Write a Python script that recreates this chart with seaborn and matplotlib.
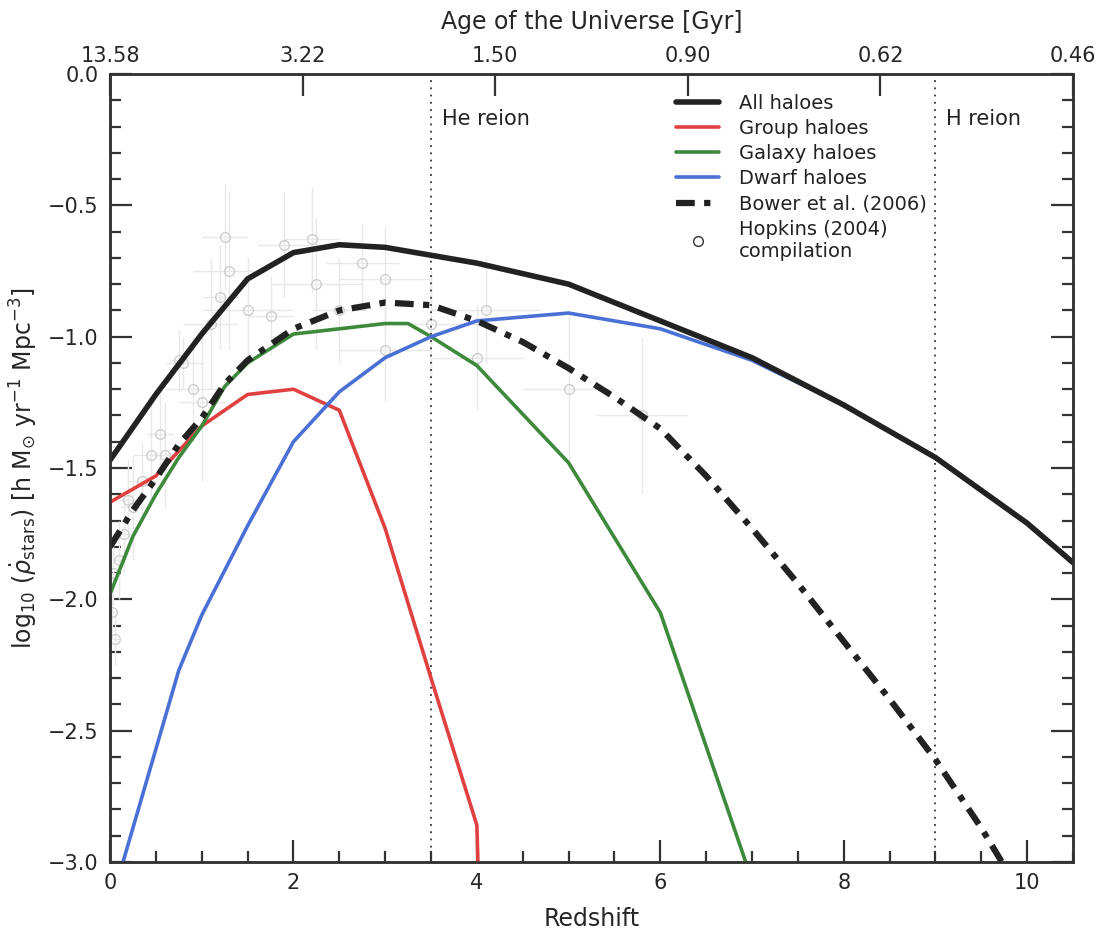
import numpy as np
import pandas as pd
import matplotlib
matplotlib.use('Agg')
import matplotlib.pyplot as plt
from matplotlib.ticker import MultipleLocator
import seaborn as sns

# ----- Data -----
z_all = [0.0, 0.5, 1.0, 1.5, 2.0, 2.5, 3.0, 3.5, 4.0, 5.0, 6.0, 7.0, 8.0, 9.0, 10.0, 10.5]
sfr_all = [-1.47, -1.22, -0.99, -0.78, -0.68, -0.65, -0.66, -0.69, -0.72, -0.80, -0.94, -1.08, -1.26, -1.46, -1.71, -1.86]

z_group = [0.0, 0.5, 1.0, 1.5, 2.0, 2.5, 3.0, 3.5, 4.0, 4.02]
sfr_group = [-1.63, -1.53, -1.34, -1.22, -1.20, -1.28, -1.73, -2.30, -2.86, -3.10]

z_galaxy = [0.0, 0.25, 0.5, 0.75, 1.0, 1.25, 1.5, 2.0, 2.5, 3.0, 3.25, 3.5, 4.0, 5.0, 6.0, 7.0]
sfr_galaxy = [-1.98, -1.76, -1.60, -1.46, -1.34, -1.19, -1.10, -0.99, -0.97, -0.95, -0.95, -1.00, -1.11, -1.48, -2.05, -3.07]

z_dwarf = [0.0, 0.75, 1.0, 1.5, 2.0, 2.5, 3.0, 3.5, 4.0, 5.0, 6.0, 7.0, 8.0, 9.0, 10.0, 10.5]
sfr_dwarf = [-3.17, -2.27, -2.06, -1.72, -1.40, -1.21, -1.08, -1.00, -0.94, -0.91, -0.97, -1.09, -1.26, -1.46, -1.71, -1.86]

z_bower = [0.0, 0.25, 0.5, 0.75, 1.0, 1.25, 1.5, 2.0, 2.5, 3.0, 3.5, 4.0, 4.5, 5.0, 5.5, 6.0,
           6.5, 7.0, 7.5, 8.0, 8.5, 9.0, 9.5, 10.0]
sfr_bower = [-1.80, -1.66, -1.54, -1.41, -1.31, -1.18, -1.09, -0.97, -0.90, -0.87, -0.88, -0.94,
             -1.02, -1.12, -1.23, -1.35, -1.53, -1.73, -1.94, -2.16, -2.38, -2.61, -2.87, -3.16]

# Hopkins (2004) compilation, approximate
hop_z = [0.02, 0.03, 0.05, 0.1, 0.15, 0.2, 0.25, 0.35, 0.45, 0.55, 0.6, 0.75, 0.8, 0.9, 1.0,
         1.1, 1.2, 1.25, 1.3, 1.5, 1.75, 1.9, 2.2, 2.25, 2.5, 2.75, 3.0, 3.0, 3.5, 4.0, 4.1, 5.0, 5.8]
hop_sfr = [-2.05, -1.90, -2.15, -1.85, -1.75, -1.62, -1.65, -1.55, -1.45, -1.37, -1.45, -1.09, -1.10,
           -1.20, -1.25, -0.95, -0.85, -0.62, -0.75, -0.90, -0.92, -0.65, -0.63, -0.80, -0.90, -0.72,
           -0.78, -1.05, -0.95, -1.08, -0.90, -1.20, -1.30]
hop_zerr = [0.02, 0.03, 0.05, 0.05, 0.1, 0.1, 0.15, 0.15, 0.2, 0.15, 0.2, 0.1, 0.2, 0.3, 0.25,
            0.3, 0.2, 0.25, 0.4, 0.5, 0.25, 0.3, 0.3, 0.5, 0.3, 0.4, 0.5, 0.5, 0.5, 0.5, 0.6, 0.5, 0.5]
hop_sfrerr = [0.10, 0.12, 0.10, 0.15, 0.15, 0.15, 0.20, 0.15, 0.20, 0.15, 0.20, 0.12, 0.10, 0.20, 0.30,
              0.25, 0.20, 0.20, 0.30, 0.20, 0.15, 0.20, 0.20, 0.25, 0.20, 0.15, 0.20, 0.20, 0.20, 0.20,
              0.20, 0.30, 0.30]

age_ticks = ['13.58', '3.22', '1.50', '0.90', '0.62', '0.46']
reion_z = [3.5, 9.0]
reion_labels = ['He reion', 'H reion']

# ----- Plot -----
sns.set_style('ticks')
plt.rcParams['font.family'] = ['DejaVu Sans']
plt.rcParams['mathtext.fontset'] = 'dejavusans'

fig = plt.figure(figsize=(11.08, 9.38), dpi=100)
ax = fig.add_axes([0.0993, 0.0810, 0.8691, 0.8401])

ax.errorbar(hop_z, hop_sfr, xerr=hop_zerr, yerr=hop_sfrerr, fmt='o', mfc='none',
            mec='#cfcfcf', ms=7, ecolor='#e8e8e8', elinewidth=1, capsize=0, zorder=1)

sns.lineplot(x=z_all, y=sfr_all, ax=ax, color='#222222', lw=4, label='All haloes', zorder=5)
sns.lineplot(x=z_group, y=sfr_group, ax=ax, color='#e04040', lw=2.6, label='Group haloes', zorder=4)
sns.lineplot(x=z_galaxy, y=sfr_galaxy, ax=ax, color='#3d8a3d', lw=2.6, label='Galaxy haloes', zorder=4)
sns.lineplot(x=z_dwarf, y=sfr_dwarf, ax=ax, color='#4a70d6', lw=2.6, label='Dwarf haloes', zorder=4)
sns.lineplot(x=z_bower, y=sfr_bower, ax=ax, color='#222222', lw=4.5, label='Bower et al. (2006)',
             zorder=4, dashes=False)
ax.lines[-1].set_linestyle((0, (3, 1.5, 1, 1.5)))

# legend entry for the compilation
ax.plot([], [], 'o', mfc='none', mec='#333333', ms=7, label='Hopkins (2004)\ncompilation')

for zr, lab in zip(reion_z, reion_labels):
    ax.axvline(zr, color='#333333', lw=1.3, ls=(0, (1, 3)), zorder=2)
    ax.text(zr + 0.12, -0.17, lab, fontsize=15, color='#222222', va='center', ha='left')

ax.set_xlim(0, 10.5)
ax.set_ylim(-3.0, 0.0)
ax.xaxis.set_major_locator(MultipleLocator(2))
ax.xaxis.set_minor_locator(MultipleLocator(0.5))
ax.yaxis.set_major_locator(MultipleLocator(0.5))
ax.yaxis.set_minor_locator(MultipleLocator(0.1))
ax.tick_params(which='both', direction='in', right=True, top=False, color='#333333', width=1.6)
ax.tick_params(which='major', length=16, labelsize=15, pad=8)
ax.tick_params(which='minor', length=8)
ax.yaxis.set_major_formatter(matplotlib.ticker.FuncFormatter(lambda v, p: ('%.1f' % v).replace('-', '\u2212')))
for s in ax.spines.values():
    s.set_linewidth(1.8)
    s.set_color('#333333')

ax.set_xlabel('Redshift', fontsize=17, labelpad=10)
ax.set_ylabel(r'log$_{10}$ ($\dot{\rho}_{\rm stars}$) [h M$_{\odot}$ yr$^{-1}$ Mpc$^{-3}$]',
              fontsize=17, labelpad=6)

# top axis: age of the Universe
top = ax.twiny()
top.set_xlim(0, 10.5)
top.set_xticks(np.linspace(0, 10.5, len(age_ticks)))
top.set_xticklabels(age_ticks)
top.tick_params(direction='in', length=16, width=1.6, labelsize=15, pad=6, color='#333333')
top.set_xlabel('Age of the Universe [Gyr]', fontsize=17, labelpad=12)
for s in top.spines.values():
    s.set_linewidth(1.8)
    s.set_color('#333333')

leg = ax.legend(loc='upper left', bbox_to_anchor=(0.58, 0.985), frameon=False, fontsize=14,
                handlelength=2.2, labelspacing=0.32, handletextpad=1.0, borderaxespad=0)
for t in leg.get_texts():
    t.set_color('#222222')

fig.savefig('out.png', dpi=100)
